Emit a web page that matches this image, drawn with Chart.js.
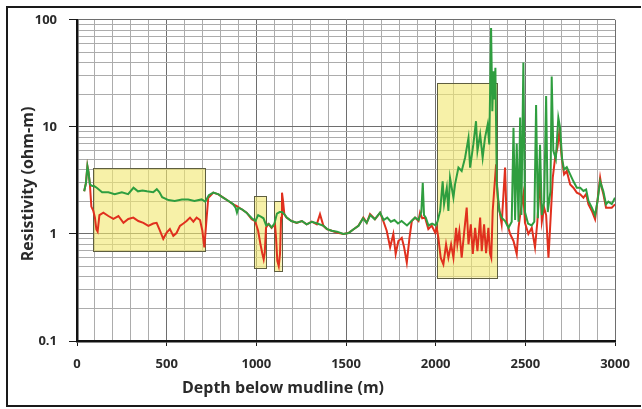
<!DOCTYPE html>
<html>
<head>
<meta charset="utf-8">
<script src="https://cdn.jsdelivr.net/npm/chart.js@4"></script>
<style>
  html, body { margin: 0; padding: 0; background: #fff; }
  #wrap { width: 642px; height: 409px; position: relative; }
</style>
</head>
<body>
<div id="wrap"><canvas id="c" width="642" height="409"></canvas></div>
<script>
// Resistivity logs versus depth below mudline
const depthGreen = [40,50,58,64,72,85,95,110,140,175,210,250,285,315,340,365,390,425,445,460,475,510,545,585,620,655,695,715,735,760,790,815,845,870,885,892,900,920,945,975,995,1010,1025,1040,1055,1070,1085,1100,1115,1130,1143,1156,1170,1195,1225,1255,1280,1310,1340,1375,1395,1420,1450,1485,1515,1540,1570,1595,1615,1635,1660,1690,1710,1730,1750,1770,1790,1810,1840,1865,1885,1905,1920,1928,1935,1945,1960,1980,2000,2010,2025,2039,2047,2062,2071,2080,2099,2108,2127,2145,2164,2183,2192,2210,2225,2233,2248,2262,2275,2290,2299,2309,2316,2322,2328,2333,2341,2355,2368,2387,2406,2424,2434,2443,2452,2462,2471,2478,2489,2498,2515,2535,2550,2560,2570,2582,2592,2605,2616,2625,2640,2647,2656,2670,2684,2694,2705,2716,2731,2750,2768,2787,2806,2824,2839,2852,2871,2889,2902,2917,2935,2950,2963,2982,3000];
const resGreen = [2.5,3.0,4.3,3.8,2.9,2.8,2.8,2.7,2.45,2.45,2.35,2.45,2.35,2.7,2.5,2.55,2.5,2.45,2.62,2.45,2.2,2.07,2.03,2.1,2.1,2.03,2.1,2.0,2.3,2.43,2.34,2.18,2.03,1.9,1.75,1.58,1.75,1.7,1.58,1.4,1.32,1.5,1.45,1.4,1.2,1.24,1.15,1.24,1.55,1.6,1.6,1.53,1.42,1.32,1.27,1.32,1.23,1.3,1.25,1.19,1.11,1.07,1.05,1.0,1.02,1.1,1.19,1.4,1.27,1.5,1.37,1.58,1.35,1.42,1.3,1.35,1.25,1.32,1.2,1.32,1.42,1.35,1.6,3.0,1.5,1.42,1.2,1.25,1.2,1.3,1.64,3.1,1.9,2.7,1.64,3.35,2.18,2.9,4.16,3.87,5.15,7.9,4.16,6.85,11.3,5.95,8.5,5.15,7.9,10.5,6.85,84,14,33,18,35.6,2.9,1.64,1.42,1.32,1.14,1.3,9.8,1.35,7.0,1.3,12.2,1.5,40,1.6,1.25,1.2,1.3,16,1.4,6.8,1.5,2.0,19.4,1.6,2.5,29.6,6,5,12.2,9.8,5,4,4.2,3.6,3.1,2.7,2.7,2.52,2.6,2.03,1.76,1.5,2.0,3.1,2.5,1.89,2.0,1.9,2.18];

const depthRed = [40,50,58,64,72,80,91,100,108,115,125,147,175,203,231,259,286,314,342,370,398,425,444,463,481,500,518,537,555,574,593,611,630,649,667,686,699,710,723,732,742,760,788,816,844,872,891,918,946,974,993,1010,1023,1034,1041,1047,1054,1067,1085,1104,1110,1117,1125,1132,1138,1143,1149,1156,1168,1197,1225,1253,1281,1309,1337,1355,1374,1393,1420,1448,1485,1513,1541,1569,1597,1616,1634,1662,1690,1708,1727,1746,1764,1777,1792,1811,1824,1839,1854,1867,1885,1904,1913,1925,1941,1959,1978,1997,2006,2015,2028,2043,2058,2071,2086,2099,2114,2121,2132,2145,2158,2173,2183,2196,2207,2220,2233,2248,2257,2270,2281,2294,2303,2310,2318,2326,2337,2346,2359,2368,2387,2396,2415,2434,2452,2462,2474,2489,2498,2517,2536,2554,2567,2582,2592,2605,2616,2629,2638,2653,2666,2679,2690,2703,2716,2731,2750,2768,2787,2806,2824,2839,2852,2871,2889,2902,2917,2926,2935,2950,2963,2982,3000];
const resRed = [2.5,3.0,4.3,3.8,2.9,1.8,1.64,1.42,1.1,1.05,1.5,1.58,1.47,1.38,1.47,1.27,1.38,1.42,1.32,1.27,1.19,1.25,1.27,1.07,0.9,1.03,1.11,0.96,1.02,1.19,1.25,1.32,1.42,1.3,1.42,1.35,1.07,0.75,1.42,2.18,2.26,2.43,2.34,2.18,2.03,1.89,1.82,1.7,1.58,1.37,1.32,1.07,0.8,0.65,0.58,0.67,1.14,1.24,1.14,1.24,0.92,0.56,0.5,0.65,1.42,2.43,2.03,1.53,1.42,1.32,1.27,1.32,1.23,1.3,1.23,1.53,1.19,1.11,1.07,1.03,1.0,1.02,1.1,1.19,1.42,1.27,1.53,1.37,1.58,1.32,1.07,0.75,1.0,0.65,0.86,0.92,0.75,0.54,0.92,1.32,1.42,1.32,1.58,1.4,1.42,1.11,1.2,1.03,1.14,0.92,0.6,0.52,0.8,0.6,0.8,0.6,1.14,0.8,1.07,0.6,1.0,1.76,0.8,1.23,0.65,1.14,0.69,1.42,0.69,1.23,0.66,1.14,0.66,0.6,1.64,2.52,4.46,2.18,1.53,1.23,4.16,1.3,1.0,0.86,0.65,1.14,1.64,2.34,1.27,1.0,1.14,0.75,1.3,3.35,1.3,1.76,1.5,0.6,1.14,3.35,5.15,6.4,9.1,5.15,3.6,3.87,2.9,2.7,2.43,2.34,2.18,2.36,1.89,1.64,1.37,2.03,3.35,2.7,2.36,1.76,1.76,1.76,1.89];

// Shaded intervals: [depth from, depth to, resistivity low, resistivity high]
const highlightBoxes = [
  [90, 715, 0.69, 4.1],
  [987, 1054, 0.48, 2.26],
  [1099, 1141, 0.45, 2.03],
  [2009, 2344, 0.39, 25.7]
];

const xTickLabels = [0, 500, 1000, 1500, 2000, 2500, 3000];
const yTickLabels = ['0.1', '1', '10', '100'];
const xTitle = 'Depth below mudline (m)';
const yTitle = 'Resistivity (ohm-m)';

const toPoints = (xs, ys) => xs.map((x, i) => ({ x: x, y: ys[i] }));
const isDecade = v => yTickLabels.some(t => Math.abs(parseFloat(t) - v) < 1e-9);
const isMajorX = v => xTickLabels.indexOf(v) !== -1;

const FONT = '"Open Sans", Lato, sans-serif';

const boxPlugin = {
  id: 'boxes',
  beforeDatasetsDraw(chart) {
    const { ctx, scales: { x, y } } = chart;
    ctx.save();
    highlightBoxes.forEach(b => {
      const x0 = x.getPixelForValue(b[0]), x1 = x.getPixelForValue(b[1]);
      const y0 = y.getPixelForValue(b[3]), y1 = y.getPixelForValue(b[2]);
      ctx.fillStyle = 'rgba(242, 232, 110, 0.6)';
      ctx.fillRect(x0, y0, x1 - x0, y1 - y0);
      ctx.strokeStyle = '#5e5e40';
      ctx.lineWidth = 1;
      ctx.strokeRect(Math.round(x0) + 0.5, Math.round(y0) + 0.5, Math.round(x1 - x0), Math.round(y1 - y0));
    });
    ctx.restore();
  },
  afterDraw(chart) {
    const ctx = chart.ctx;
    ctx.save();
    // outer frame
    ctx.strokeStyle = '#1a1a1a';
    ctx.lineWidth = 2;
    ctx.beginPath();
    ctx.moveTo(641, 7);
    ctx.lineTo(7, 7);
    ctx.lineTo(7, 406);
    ctx.lineTo(641, 406);
    ctx.stroke();
    // axis titles
    ctx.fillStyle = '#2a2a2a';
    ctx.font = 'bold 16px ' + FONT;
    ctx.textAlign = 'center';
    ctx.textBaseline = 'middle';
    ctx.fillText(xTitle, 283, 388);
    ctx.translate(28, 184);
    ctx.rotate(-Math.PI / 2);
    ctx.fillText(yTitle, 0, 0);
    ctx.restore();
  }
};

new Chart(document.getElementById('c'), {
  type: 'line',
  data: {
    datasets: [
      { label: 'Green', data: toPoints(depthGreen, resGreen), borderColor: '#2f9e3f', borderWidth: 2 },
      { label: 'Red', data: toPoints(depthRed, resRed), borderColor: '#e0301e', borderWidth: 2 }
    ]
  },
  options: {
    responsive: false,
    animation: false,
    devicePixelRatio: 1,
    layout: { padding: { left: 0, top: 19, right: 27, bottom: 0 } },
    elements: { point: { radius: 0 }, line: { tension: 0 } },
    plugins: { legend: { display: false }, tooltip: { enabled: false } },
    scales: {
      x: {
        type: 'linear',
        min: 0, max: 3000,
        afterBuildTicks: s => { const t = []; for (let v = 0; v <= 3000; v += 100) t.push({ value: v }); s.ticks = t; },
        afterFit: s => { s.height = 68; },
        ticks: {
          autoSkip: false, maxRotation: 0, padding: 10,
          color: '#2a2a2a', font: { family: FONT, size: 13, weight: 'bold' },
          callback: v => isMajorX(v) ? String(v) : ''
        },
        grid: {
          color: c => isMajorX(c.tick.value) ? '#6e6e6e' : '#acacac',
          tickColor: c => isMajorX(c.tick.value) ? '#1a1a1a' : 'rgba(0,0,0,0)',
          tickLength: 5, lineWidth: 1
        },
        border: { display: true, color: '#111', width: 2.5 }
      },
      y: {
        type: 'logarithmic',
        min: 0.1, max: 100,
        afterBuildTicks: s => {
          const t = [];
          [0.1, 1, 10].forEach(d => { for (let k = 1; k < 10; k++) t.push({ value: parseFloat((d * k).toPrecision(3)) }); });
          t.push({ value: 100 });
          s.ticks = t;
        },
        afterFit: s => { s.width = 77; },
        ticks: {
          autoSkip: false, padding: 12,
          color: '#2a2a2a', font: { family: FONT, size: 13, weight: 'bold' },
          callback: v => isDecade(v) ? String(parseFloat(v.toPrecision(3))) : ''
        },
        grid: {
          color: c => isDecade(c.tick.value) ? '#6e6e6e' : '#acacac',
          tickColor: c => isDecade(c.tick.value) ? '#1a1a1a' : 'rgba(0,0,0,0)',
          tickLength: 8, lineWidth: 1
        },
        border: { display: true, color: '#111', width: 2.5 }
      }
    }
  },
  plugins: [boxPlugin]
});
</script>
</body>
</html>
